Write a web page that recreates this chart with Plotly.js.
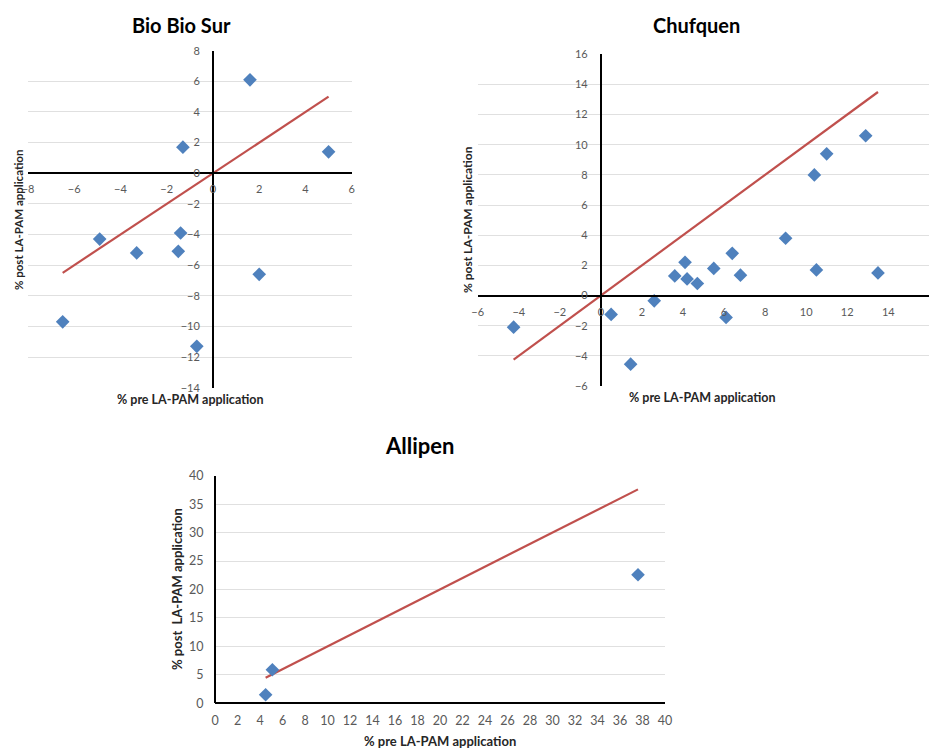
<!DOCTYPE html>
<html>
<head>
<meta charset="utf-8">
<script src="https://cdn.plot.ly/plotly-3.0.1.min.js"></script>
<style>html,body{margin:0;padding:0;background:#fff}#chart{width:935px;height:748px}</style>
</head>
<body>
<div id="chart"></div>
<script>
// ---- Data ----
const bioPre  = [1.6, -1.3, 5.0, -4.9, -3.3, -1.4, -1.5, 2.0, -6.5, -0.7];
const bioPost = [6.1, 1.7, 1.4, -4.3, -5.2, -3.9, -5.1, -6.6, -9.7, -11.3];
const bioLineX = [-6.5, 5.0];

const chuPre  = [-4.25, 0.5, 1.45, 2.6, 3.6, 4.1, 4.2, 4.7, 5.5, 6.4, 6.1, 6.8, 9.0, 10.4, 10.5, 11.0, 12.9, 13.5];
const chuPost = [-2.1, -1.25, -4.55, -0.35, 1.3, 2.2, 1.1, 0.8, 1.8, 2.8, -1.45, 1.35, 3.8, 8.0, 1.7, 9.4, 10.6, 1.5];
const chuLineX = [-4.25, 13.5];

const allPre  = [4.5, 5.1, 37.6];
const allPost = [1.5, 5.9, 22.6];
const allLineX = [4.5, 37.6];

const titles = ["Bio Bio Sur", "Chufquen", "Allipen"];
const xTitle = "% pre LA-PAM application";
const yTitles = ["% post LA-PAM application", "% post LA-PAM application", "% post  LA-PAM application"];

// ---- Styling ----
const W = 935, H = 748;
const FONT = "Lato, 'Open Sans', 'DejaVu Sans', sans-serif";
const blue = "#4f81bd", red = "#c0504d";

function px(x){ return x / W; }
function py(y){ return 1 - y / H; }
function posOf(v, range, dom){ return dom[0] + (v - range[0]) / (range[1] - range[0]) * (dom[1] - dom[0]); }

const panels = [
  {x: bioPre, y: bioPost, lx: bioLineX, xr: [-8, 6], yr: [-14, 8], dx: 2, dy: 2, fs: 11,
   xd: [px(28), px(351.7)], yd: [py(387.7), py(50.7)], xso: 6, yso: 10},
  {x: chuPre, y: chuPost, lx: chuLineX, xr: [-6, 16], yr: [-6, 16], dx: 2, dy: 2, fs: 11,
   xd: [px(477.7), px(929.3)], yd: [py(386), py(54.3)], xso: 6, yso: 10},
  {x: allPre, y: allPost, lx: allLineX, xr: [0, 40], yr: [0, 40], dx: 2, dy: 5, fs: 12.5,
   xd: [px(215), px(665)], yd: [py(703.3), py(475.7)], xso: 6, yso: 8}
];

const traces = [];
const layout = {
  width: W, height: H,
  margin: {l: 0, r: 0, t: 0, b: 0},
  paper_bgcolor: "#fff", plot_bgcolor: "rgba(0,0,0,0)",
  showlegend: false,
  font: {family: FONT},
  annotations: []
};

panels.forEach((p, i) => {
  const n = i === 0 ? "" : String(i + 1);
  const xa = "x" + n, ya = "y" + n;
  const tf = {family: FONT, size: p.fs, color: "#595959"};
  traces.push({
    x: p.lx, y: p.lx, xaxis: xa, yaxis: ya, type: "scatter", mode: "lines",
    line: {color: red, width: 2.2}, hoverinfo: "skip"
  });
  traces.push({
    x: p.x, y: p.y, xaxis: xa, yaxis: ya, type: "scatter", mode: "markers",
    marker: {symbol: "diamond", size: 10.5, color: blue}
  });
  layout["xaxis" + n] = {
    domain: p.xd, range: p.xr, dtick: p.dx, tick0: 0,
    anchor: "free", position: posOf(0, p.yr, p.yd),
    showgrid: false, zeroline: false,
    showline: true, linecolor: "#000", linewidth: 2,
    ticks: "", ticklen: 0, ticklabelstandoff: p.xso, tickfont: tf, fixedrange: true
  };
  layout["yaxis" + n] = {
    domain: p.yd, range: p.yr, dtick: p.dy, tick0: 0,
    anchor: "free", position: posOf(0, p.xr, p.xd),
    showgrid: true, gridcolor: "#e0e0e0", gridwidth: 1, zeroline: false,
    showline: true, linecolor: "#000", linewidth: 2,
    ticks: "", ticklen: 0, ticklabelstandoff: p.yso, tickfont: tf, fixedrange: true
  };
});

// Titles
const titlePos = [[181, 25, 20], [696, 25, 20], [419, 445, 22]];
titlePos.forEach((t, i) => {
  layout.annotations.push({
    text: "<b>" + titles[i] + "</b>", xref: "paper", yref: "paper",
    x: px(t[0]), y: py(t[1]), xanchor: "center", yanchor: "middle",
    showarrow: false, font: {family: FONT, size: t[2], color: "#000"}
  });
});
// X axis titles
const xtPos = [[190, 399, 12.5], [702, 397.5, 12.5], [440, 741, 13]];
xtPos.forEach(t => {
  layout.annotations.push({
    text: "<b>" + xTitle + "</b>", xref: "paper", yref: "paper",
    x: px(t[0]), y: py(t[1]), xanchor: "center", yanchor: "middle",
    showarrow: false, font: {family: FONT, size: t[2], color: "#262626"}
  });
});
// Y axis titles
const ytPos = [[18, 220, 11.5], [467, 220, 12], [177, 589, 13]];
ytPos.forEach((t, i) => {
  layout.annotations.push({
    text: "<b>" + yTitles[i] + "</b>", xref: "paper", yref: "paper",
    x: px(t[0]), y: py(t[1]), xanchor: "center", yanchor: "middle",
    textangle: -90, showarrow: false, font: {family: FONT, size: t[2], color: "#262626"}
  });
});

Plotly.newPlot("chart", traces, layout, {staticPlot: true, displayModeBar: false});
</script>
</body>
</html>
